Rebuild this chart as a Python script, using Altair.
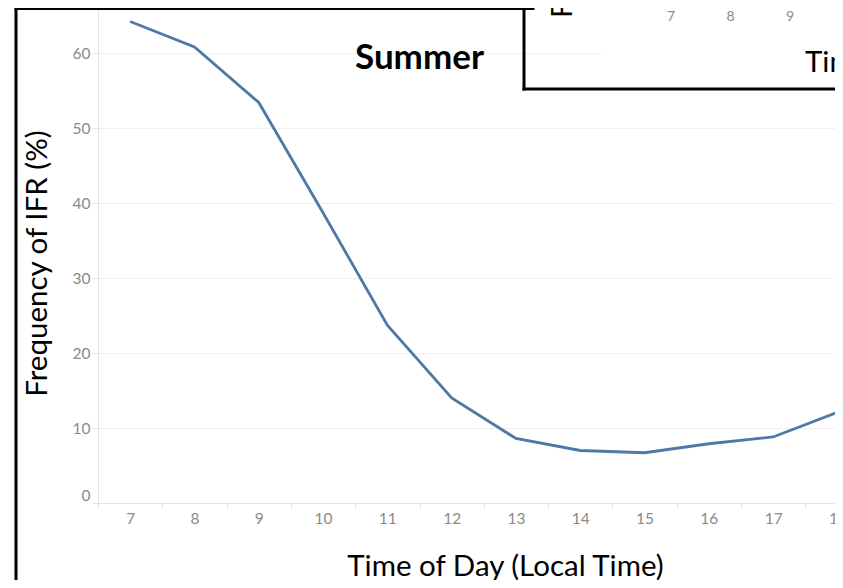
import altair as alt
import pandas as pd

# ---- data ----
hours = [7, 8, 9, 10, 11, 12, 13, 14, 15, 16, 17, 18]
freq = [64.2, 60.8, 53.4, 38.7, 23.7, 14.0, 8.6, 7.0, 6.7, 7.9, 8.8, 12.1]
y_ticks = [0, 10, 20, 30, 40, 50, 60]
inset_hours = [7, 8, 9, 10]
inset_labels_txt = ["7", "8", "9", "10"]

main_df = pd.DataFrame({"hour": hours, "freq": freq})
inset_df = pd.DataFrame({"hour": inset_hours, "label": inset_labels_txt})
one = pd.DataFrame({"t": [""]})

FONT = "Lato"
TICK_COLOR = "#8a8a8a"
AXIS_LINE = "#e2e2e2"
TITLE_SIZE = 29.5
TICK_SIZE = 15.5

line = alt.Chart(main_df).mark_line(color="#4e79a7", strokeWidth=2.8).encode(
    x=alt.X(
        "hour:O",
        bandPosition=0.5,
        scale=alt.Scale(type="band", paddingInner=0, paddingOuter=0, range=[0, 771.6]),
        axis=alt.Axis(
            title="Time of Day (Local Time)", labelAngle=0, tickBand="extent",
            tickSize=5, tickColor=AXIS_LINE, domainColor=AXIS_LINE,
            labelColor=TICK_COLOR, labelFontSize=TICK_SIZE, labelFont=FONT, labelPadding=3,
            titleFont=FONT, titleFontSize=TITLE_SIZE, titleFontWeight="normal", titleColor="black",
            titleX=407, titleY=72, titleBaseline="alphabetic", titleAlign="center",
            grid=False,
        ),
    ),
    y=alt.Y(
        "freq:Q",
        scale=alt.Scale(domain=[0, 66], nice=False),
        axis=alt.Axis(
            values=y_ticks, title="Frequency of IFR (%)", labelFlush=True,
            tickSize=6, tickColor=AXIS_LINE, domainColor=AXIS_LINE,
            labelColor=TICK_COLOR, labelFontSize=TICK_SIZE, labelFont=FONT, labelPadding=2,
            titleFont=FONT, titleFontSize=TITLE_SIZE, titleFontWeight="normal", titleColor="black",
            titleX=-61, titleY=255, titleAngle=270, titleAlign="center", titleBaseline="middle",
            grid=True, gridColor="#f0f0f0",
        ),
    ),
)

summer = alt.Chart(one).mark_text(
    text="Summer", font=FONT, fontSize=35, fontWeight="bold", color="black",
    align="center", baseline="alphabetic",
).encode(x=alt.value(321.5), y=alt.value(61))

frame_left = alt.Chart(one).mark_rule(color="black", strokeWidth=3, strokeCap="square").encode(
    x=alt.value(-82), y=alt.value(-8), y2=alt.value(585))
frame_top = alt.Chart(one).mark_rule(color="black", strokeWidth=3, strokeCap="square").encode(
    x=alt.value(-82), x2=alt.value(435), y=alt.value(0.5))

cover = alt.Chart(one).mark_rect(color="white").encode(
    x=alt.value(505), x2=alt.value(760), y=alt.value(2), y2=alt.value(79))

inset_left = alt.Chart(one).mark_rule(color="black", strokeWidth=3, strokeCap="square").encode(
    x=alt.value(426), y=alt.value(-8), y2=alt.value(81))
inset_bottom = alt.Chart(one).mark_rule(color="black", strokeWidth=3, strokeCap="square").encode(
    x=alt.value(426), x2=alt.value(760), y=alt.value(81))

inset_ticks = alt.Chart(inset_df).mark_text(
    font=FONT, fontSize=14, color=TICK_COLOR, baseline="middle", align="center"
).encode(
    x=alt.X("hour:Q", scale=alt.Scale(domain=[7, 10], range=[573, 751.5]), axis=None),
    y=alt.value(9),
    text="label:N",
)

inset_ytitle = alt.Chart(one).mark_text(
    text="Frequency of IFR (%)", font=FONT, fontSize=TITLE_SIZE, color="black",
    angle=270, align="left", baseline="alphabetic",
).encode(x=alt.value(474), y=alt.value(10))

inset_xtitle = alt.Chart(one).mark_text(
    text="Time of Day (Local Time)", font=FONT, fontSize=TITLE_SIZE, color="black",
    align="left", baseline="alphabetic",
).encode(x=alt.value(707), y=alt.value(64))

chart = alt.layer(
    line, summer, frame_left, frame_top, cover, inset_left, inset_bottom,
    inset_ticks, inset_ytitle, inset_xtitle,
).resolve_scale(x="independent").properties(
    width=737, height=495,
    autosize=alt.AutoSizeParams(type="none"),
    padding={"left": 90, "top": 0, "right": 0, "bottom": 77},
    background="white",
).configure_view(stroke=None)

chart.save("out.html", embed_options={"renderer": "svg", "actions": False})
